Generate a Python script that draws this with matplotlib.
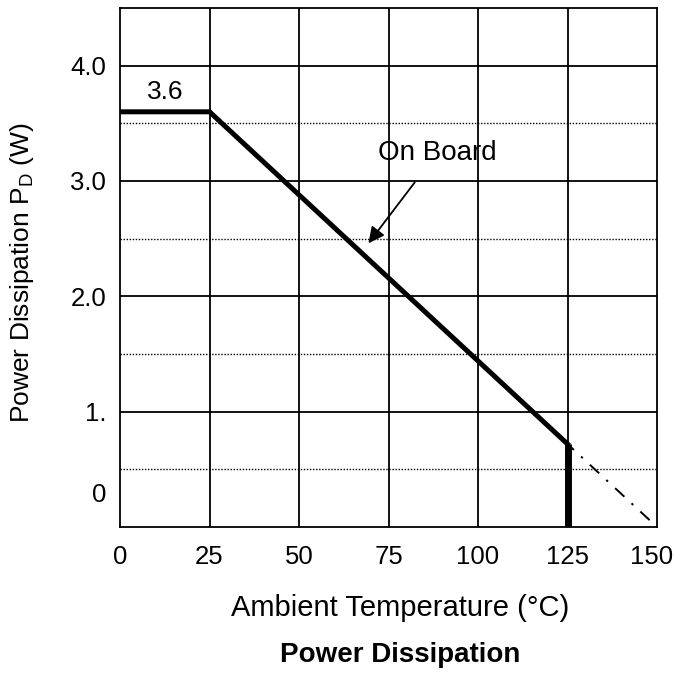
import matplotlib
matplotlib.use("Agg")
import matplotlib.pyplot as plt
from matplotlib.transforms import ScaledTranslation

plt.rcParams['font.family'] = ['Liberation Sans', 'DejaVu Sans']

# derating curve (on board)
temp_solid = [0, 25, 125]
power_solid = [3.6, 3.6, 0.72]
temp_cut = [125, 125]
power_cut = [0.72, 0.0]
temp_ext = [125, 150]
power_ext = [0.72, 0.0]

x_ticks = [0, 25, 50, 75, 100, 125, 150]
x_labels = ['0', '25', '50', '75', '100', '125', '150']
y_ticks = [4.0, 3.0, 2.0, 1.0, 0.3]
y_labels = ['4.0', '3.0', '2.0', '1.', '0']
major_grid = [1.0, 2.0, 3.0, 4.0]
minor_grid = [0.5, 1.5, 2.5, 3.5]

fs = 20
tick_fs = 18.5

fig = plt.figure(figsize=(6.75, 6.77), dpi=100)
ax = fig.add_axes([120 / 675, 150 / 677, 537 / 675, 519 / 677])

for x in x_ticks[1:-1]:
    ax.axvline(x, color='black', lw=1.3, zorder=1)
for y in major_grid:
    ax.axhline(y, color='black', lw=1.3, zorder=1)
for y in minor_grid:
    ax.axhline(y, color='black', lw=1.0, ls=(0, (1, 1.2)), zorder=1)

ax.plot(temp_solid, power_solid, color='black', lw=3.6, solid_joinstyle='miter', zorder=3)
ax.plot(temp_cut, power_cut, color='black', lw=5.0, solid_capstyle='butt', zorder=3)
ax.plot(temp_ext, power_ext, color='black', lw=1.4, ls=(2, (6.5, 5, 1.2, 5)), zorder=2)

ax.text(12.6, 3.77, '3.6', fontsize=19, ha='center', va='center')
ax.annotate('On Board', xy=(69.4, 2.46), xytext=(88.5, 3.24),
            fontsize=fs, ha='center', va='center',
            arrowprops=dict(arrowstyle='-|>', color='black', lw=1.3,
                            mutation_scale=24, shrinkA=12, shrinkB=0))

ax.set_xlim(0, 150)
ax.set_ylim(0, 4.5)
ax.set_xticks(x_ticks)
ax.set_xticklabels(x_labels)
ax.set_yticks(y_ticks)
ax.set_yticklabels(y_labels)
ax.tick_params(length=0, labelsize=tick_fs)
ax.tick_params(axis='x', pad=13)
ax.tick_params(axis='y', pad=10)
for s in ax.spines.values():
    s.set_linewidth(1.3)

# the last x label sits a little left of its tick, as in the original
last = ax.get_xticklabels()[-1]
last.set_transform(last.get_transform() + ScaledTranslation(-5 / 100, 0, fig.dpi_scale_trans))

ax.set_xlabel('Ambient Temperature (°C)', fontsize=21)
ax.xaxis.label.set_va('center')
ax.xaxis.set_label_coords((400 - 120) / 537, (527 - 608) / 519)
ax.set_ylabel('Power Dissipation P$_\\mathregular{D}$ (W)', fontsize=19)
ax.yaxis.label.set_va('center')
ax.yaxis.set_label_coords((22 - 120) / 537, 0.49)
fig.text(400 / 675, 1 - 655 / 677, 'Power Dissipation', fontsize=fs,
         fontweight='bold', ha='center', va='center')

fig.savefig('out.png', dpi=100)
